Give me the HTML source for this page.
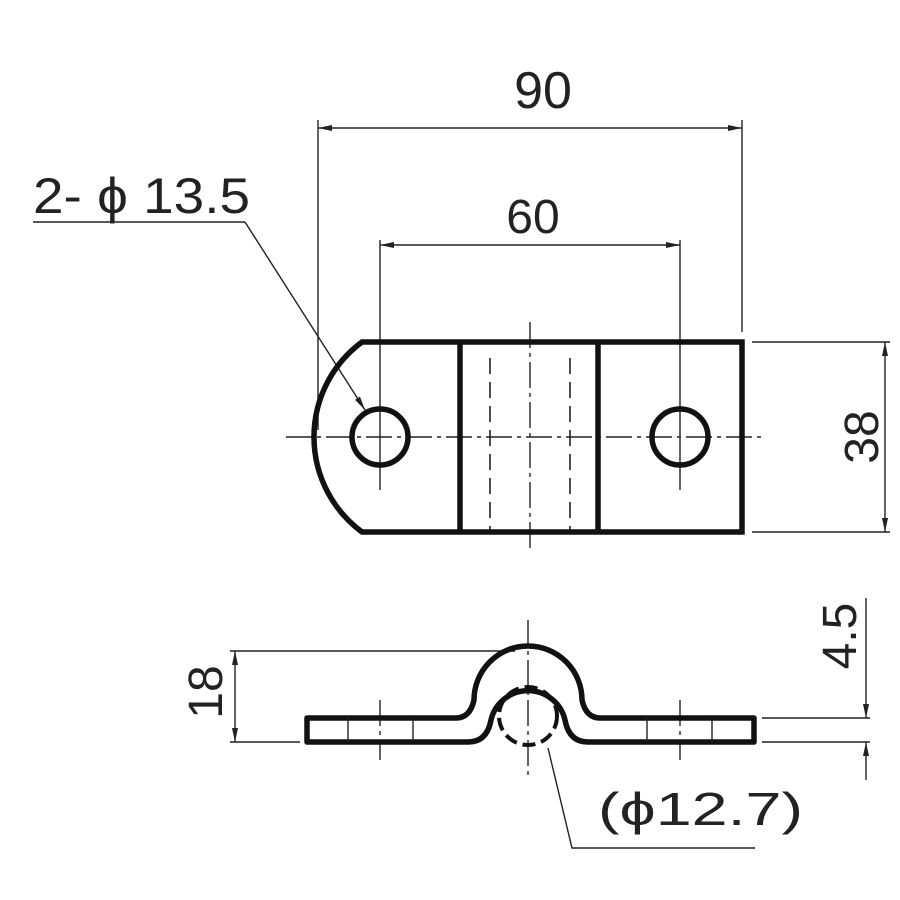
<!DOCTYPE html>
<html><head><meta charset="utf-8"><style>html,body{margin:0;padding:0;background:#fff}svg{display:block}</style></head>
<body>
<svg width="900" height="900" viewBox="0 0 900 900" xmlns="http://www.w3.org/2000/svg">
<defs>
<marker id="a" markerWidth="14" markerHeight="6" refX="14" refY="3" orient="auto" markerUnits="userSpaceOnUse">
<path d="M0,0 L14,3 L0,6 Z" fill="#222"/></marker>
</defs>
<g font-family="Liberation Sans, sans-serif" fill="#222">
<text x="543" y="108" font-size="52" text-anchor="middle">90</text>
<text x="533" y="233" font-size="48" text-anchor="middle">60</text>
<text x="33" y="213" font-size="50" textLength="217" lengthAdjust="spacingAndGlyphs">2- ϕ 13.5</text>
<text transform="translate(878,437) rotate(-90)" font-size="48" text-anchor="middle">38</text>
<text transform="translate(222,692) rotate(-90)" font-size="48" text-anchor="middle">18</text>
<text transform="translate(856,636) rotate(-90)" font-size="48" text-anchor="middle">4.5</text>
<text x="598" y="825" font-size="46" textLength="205" lengthAdjust="spacingAndGlyphs">(ϕ12.7)</text>
</g>
<g stroke="#222" stroke-width="1.4" fill="none">
<line x1="318" y1="120" x2="318" y2="430"/>
<line x1="742" y1="120" x2="742" y2="332"/>
<line x1="330" y1="128" x2="318" y2="128" marker-end="url(#a)"/>
<line x1="330" y1="128" x2="742" y2="128" marker-end="url(#a)"/>
<line x1="380" y1="240" x2="380" y2="490"/>
<line x1="680" y1="240" x2="680" y2="490"/>
<line x1="390" y1="245" x2="380" y2="245" marker-end="url(#a)"/>
<line x1="390" y1="245" x2="680" y2="245" marker-end="url(#a)"/>
<polyline points="33,222 245,222"/>
<line x1="245" y1="222" x2="365" y2="410" marker-end="url(#a)"/>
<line x1="752" y1="342" x2="890" y2="342"/>
<line x1="752" y1="532" x2="890" y2="532"/>
<line x1="885" y1="437" x2="885" y2="342" marker-end="url(#a)"/>
<line x1="885" y1="437" x2="885" y2="532" marker-end="url(#a)"/>
<line x1="230" y1="651" x2="515" y2="651"/>
<line x1="230" y1="742" x2="300" y2="742"/>
<line x1="235" y1="700" x2="235" y2="651" marker-end="url(#a)"/>
<line x1="235" y1="700" x2="235" y2="742" marker-end="url(#a)"/>
<line x1="762" y1="718" x2="870" y2="718"/>
<line x1="762" y1="742" x2="870" y2="742"/>
<line x1="866" y1="598" x2="866" y2="718" marker-end="url(#a)"/>
<line x1="866" y1="780" x2="866" y2="742" marker-end="url(#a)"/>
<polyline points="548,748 572,848 755,848"/>
</g>
<g stroke="#222" stroke-width="1.4" fill="none" stroke-dasharray="26,5,4,5">
<line x1="286" y1="437" x2="762" y2="437"/>
<line x1="530" y1="322" x2="530" y2="552"/>
<line x1="528" y1="620" x2="528" y2="780"/>
<line x1="380" y1="700" x2="380" y2="760"/>
<line x1="680" y1="700" x2="680" y2="760"/>
</g>
<g stroke="#222" stroke-width="1.6" stroke-dasharray="16,8">
<line x1="490" y1="358" x2="490" y2="530"/>
<line x1="570" y1="358" x2="570" y2="530"/>
</g>
<g stroke="#111" stroke-width="5.5" fill="none">
<path d="M362,342 L742,342 L742,532 L362,532 A118,118 0 0 1 362,342 Z"/>
<line x1="460" y1="342" x2="460" y2="532"/>
<line x1="598" y1="342" x2="598" y2="532"/>
<circle cx="380" cy="437" r="28"/>
<circle cx="680" cy="437" r="28"/>
</g>
<g stroke="#111" stroke-width="5.5" fill="none" stroke-linejoin="round">
<path d="M307,718 L456,718 Q470,718 474,700 A54,54 0 0 1 582,700 Q586,718 600,718 L754,718 L754,742 L588,742 Q569,742 565,720 A38,38 0 0 0 491,720 Q487,742 468,742 L307,742 Z"/>
</g>
<g stroke="#222" stroke-width="1.4">
<line x1="348" y1="718" x2="348" y2="742"/>
<line x1="413" y1="718" x2="413" y2="742"/>
<line x1="647" y1="718" x2="647" y2="742"/>
<line x1="712" y1="718" x2="712" y2="742"/>
</g>
<circle cx="528" cy="716" r="29" stroke="#111" stroke-width="4" fill="none" stroke-dasharray="13,6"/>
</svg>
</body></html>
